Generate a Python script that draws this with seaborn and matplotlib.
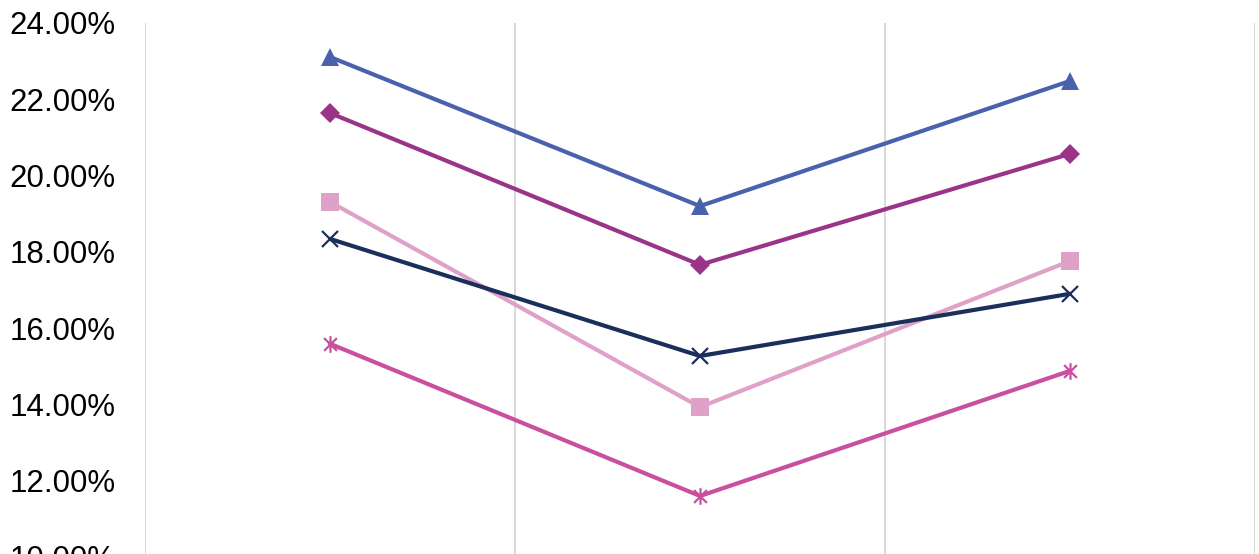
import pandas as pd
import matplotlib
matplotlib.use("Agg")
import matplotlib.pyplot as plt
import seaborn as sns
from matplotlib.path import Path
from matplotlib.ticker import FuncFormatter, FixedLocator

# --- data ---
categories = ["Cat 1", "Cat 2", "Cat 3"]
series_names = ["Series 1", "Series 2", "Series 3", "Series 4", "Series 5"]
s1 = [23.11, 19.20, 22.48]   # blue, triangle
s2 = [21.64, 17.66, 20.57]   # purple, diamond
s3 = [19.31, 13.93, 17.76]   # light pink, square
s4 = [18.34, 15.27, 16.90]   # navy, x
s5 = [15.59, 11.60, 14.88]   # magenta, star
y_ticks = [10, 12, 14, 16, 18, 20, 22, 24]

# Excel-like star marker: an x with a vertical bar
star = Path([(-1, -1), (1, 1), (-1, 1), (1, -1), (0, -1.3), (0, 1.3)],
            [Path.MOVETO, Path.LINETO, Path.MOVETO, Path.LINETO,
             Path.MOVETO, Path.LINETO])

colors = ["#4A62AD", "#993489", "#E0A1C8", "#1B2F5B", "#C8509F"]
markers = ["^", "D", "s", "x", star]
msizes = [13, 10, 13, 12, 12]
filled = [True, True, True, False, False]

rows = []
for name, vals in zip(series_names, [s1, s2, s3, s4, s5]):
    for c, v in zip(categories, vals):
        rows.append({"category": c, "series": name, "value": v})
df = pd.DataFrame(rows)

sns.set_style("white")
plt.rcParams["font.family"] = ["Liberation Sans", "DejaVu Sans"]

fig = plt.figure(figsize=(12.59, 5.54), dpi=100)
ax = fig.add_axes([145 / 1259, -3 / 554, 1110 / 1259, 534 / 554])

for name, col, mk, ms, fl in zip(series_names, colors, markers, msizes, filled):
    sub = df[df["series"] == name]
    sns.lineplot(data=sub, x="category", y="value", ax=ax, color=col,
                 linewidth=3.0, marker=mk, markersize=ms, sort=False,
                 markeredgewidth=0 if fl else 1.6, markeredgecolor=col,
                 legend=False)

ax.set_xlim(-0.5, 2.5)
ax.set_ylim(10, 24)
ax.yaxis.set_major_locator(FixedLocator(y_ticks))
ax.yaxis.set_major_formatter(FuncFormatter(lambda v, p: f"{v:.2f}%"))
ax.xaxis.set_minor_locator(FixedLocator([-0.5, 0.5, 1.5, 2.5]))
ax.grid(False)
ax.grid(True, which="minor", axis="x", color="#D9D9D9", linewidth=1.5)
ax.set_xticklabels([])
ax.tick_params(axis="x", which="both", length=0)
ax.tick_params(axis="y", length=0, pad=21, labelsize=22.5, labelcolor="black")
ax.set_xlabel("")
ax.set_ylabel("")
for sp in ax.spines.values():
    sp.set_visible(False)

fig.savefig("out.png", dpi=100)
